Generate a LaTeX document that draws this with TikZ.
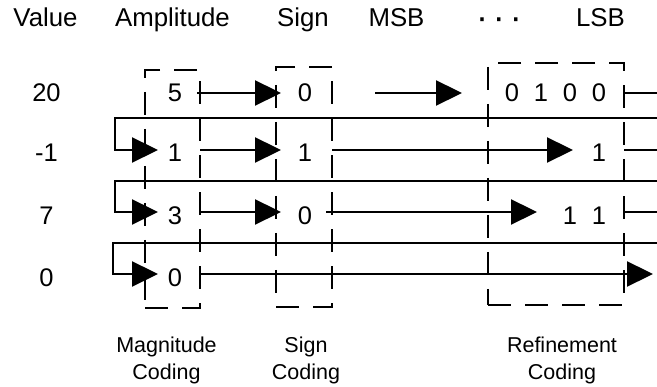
\documentclass[tikz,border=0pt]{standalone}
\usepackage{fontspec}
\setmainfont{Liberation Sans}
\usetikzlibrary{arrows.meta}
\begin{document}
\begin{tikzpicture}[x=1pt,y=-1pt,
  ln/.style={line width=2.3pt},
  arr/.style={ln,-{Triangle[length=26pt,width=25pt]}},
  dbox/.style={draw,line width=2.3pt,dash pattern=on 23pt off 14pt,inner sep=0pt,outer sep=0pt},
  hdr/.style={font=\fontsize{25.8}{30}\selectfont,anchor=base,inner sep=0pt},
  num/.style={font=\fontsize{25.5}{30}\selectfont,anchor=base,inner sep=0pt},
  capt/.style={font=\fontsize{21.5}{27.5}\selectfont,align=center,anchor=base,inner sep=0pt}]
\useasboundingbox (0,0) rectangle (657,387);
% dashed coding boxes
\node[dbox,minimum width=55pt,minimum height=238pt] (magbox) at (172.5,189) {};
\node[dbox,minimum width=56pt,minimum height=240pt] (signbox) at (304,187) {};
\node[dbox,minimum width=136pt,minimum height=242pt] (refbox) at (556,184) {};
% row and column coordinates
\coordinate (r1) at (0,93);
\coordinate (r2) at (0,150);
\coordinate (r3) at (0,212);
\coordinate (r4) at (0,274);
\coordinate (s1) at (0,118);
\coordinate (s2) at (0,181);
\coordinate (s3) at (0,243);
\coordinate (lp) at (115,0);
\coordinate (re) at (657,0);
\coordinate (at) at (158,0);
\coordinate (st) at (281,0);
\coordinate (m1s) at (375,0);
\coordinate (m1t) at (462,0);
\coordinate (t2) at (573,0);
\coordinate (s3s) at (326,0);
\coordinate (t3) at (537,0);
\coordinate (t4) at (653,0);
% headers
\node[hdr] (hval) at (45.5,27) {Value};
\node[hdr] (hamp) at (172.5,27) {Amplitude};
\node[hdr] (hsign) at (303,27) {Sign};
\node[hdr] (hmsb) at (396.5,27) {MSB};
\node[hdr,font=\fontsize{36}{40}\selectfont] (hdots) at (499,30) {·\hspace{5pt}·\hspace{5pt}·};
\node[hdr] (hlsb) at (600.5,27) {LSB};
% values
\node[num] (v1) at (46.5,102) {20};
\node[num] (v2) at (46.5,162) {-1};
\node[num] (v3) at (46.5,225) {7};
\node[num] (v4) at (46.5,287) {0};
% amplitudes
\node[num] (a1) at (175,102) {5};
\node[num] (a2) at (175,162) {1};
\node[num] (a3) at (175,225) {3};
\node[num] (a4) at (175,287) {0};
% signs
\node[num] (g1) at (305,102) {0};
\node[num] (g2) at (305,162) {1};
\node[num] (g3) at (305,225) {0};
% refinement bits
\node[num] (b1a) at (512,102) {0};
\node[num] (b1b) at (541,102) {1};
\node[num] (b1c) at (570,102) {0};
\node[num] (b1d) at (599,102) {0};
\node[num] (b2d) at (599,162) {1};
\node[num] (b3c) at (570,225) {1};
\node[num] (b3d) at (599,225) {1};
% captions
\node[capt] (c1) at (166.5,380) {Magnitude\\Coding};
\node[capt] (c2) at (306,380) {Sign\\Coding};
\node[capt] (c3) at (562,380) {Refinement\\Coding};
% row 1 (20)
\draw[arr] ([xshift=-3pt]magbox.east |- r1) -- (st |- r1);
\draw[arr] (m1s |- r1) -- (m1t |- r1);
\draw[ln] (refbox.east |- r1) -- (re |- r1);
% row 2 (-1)
\draw[arr] (re |- s1) -- (lp |- s1) -- (lp |- r2) -- (at |- r2);
\draw[arr] (magbox.east |- r2) -- (st |- r2);
\draw[arr] (signbox.east |- r2) -- (t2 |- r2);
\draw[ln] (refbox.east |- r2) -- (re |- r2);
% row 3 (7)
\draw[arr] (re |- s2) -- (lp |- s2) -- (lp |- r3) -- (at |- r3);
\draw[arr] (magbox.east |- r3) -- (st |- r3);
\draw[arr] (s3s |- r3) -- (t3 |- r3);
\draw[ln] (refbox.east |- r3) -- (re |- r3);
% row 4 (0)
\draw[arr] (re |- s3) -- ([xshift=-2pt]lp |- s3) -- ([xshift=-2pt]lp |- r4) -- (at |- r4);
\draw[arr] (magbox.east |- r4) -- (t4 |- r4);
\end{tikzpicture}
\end{document}
